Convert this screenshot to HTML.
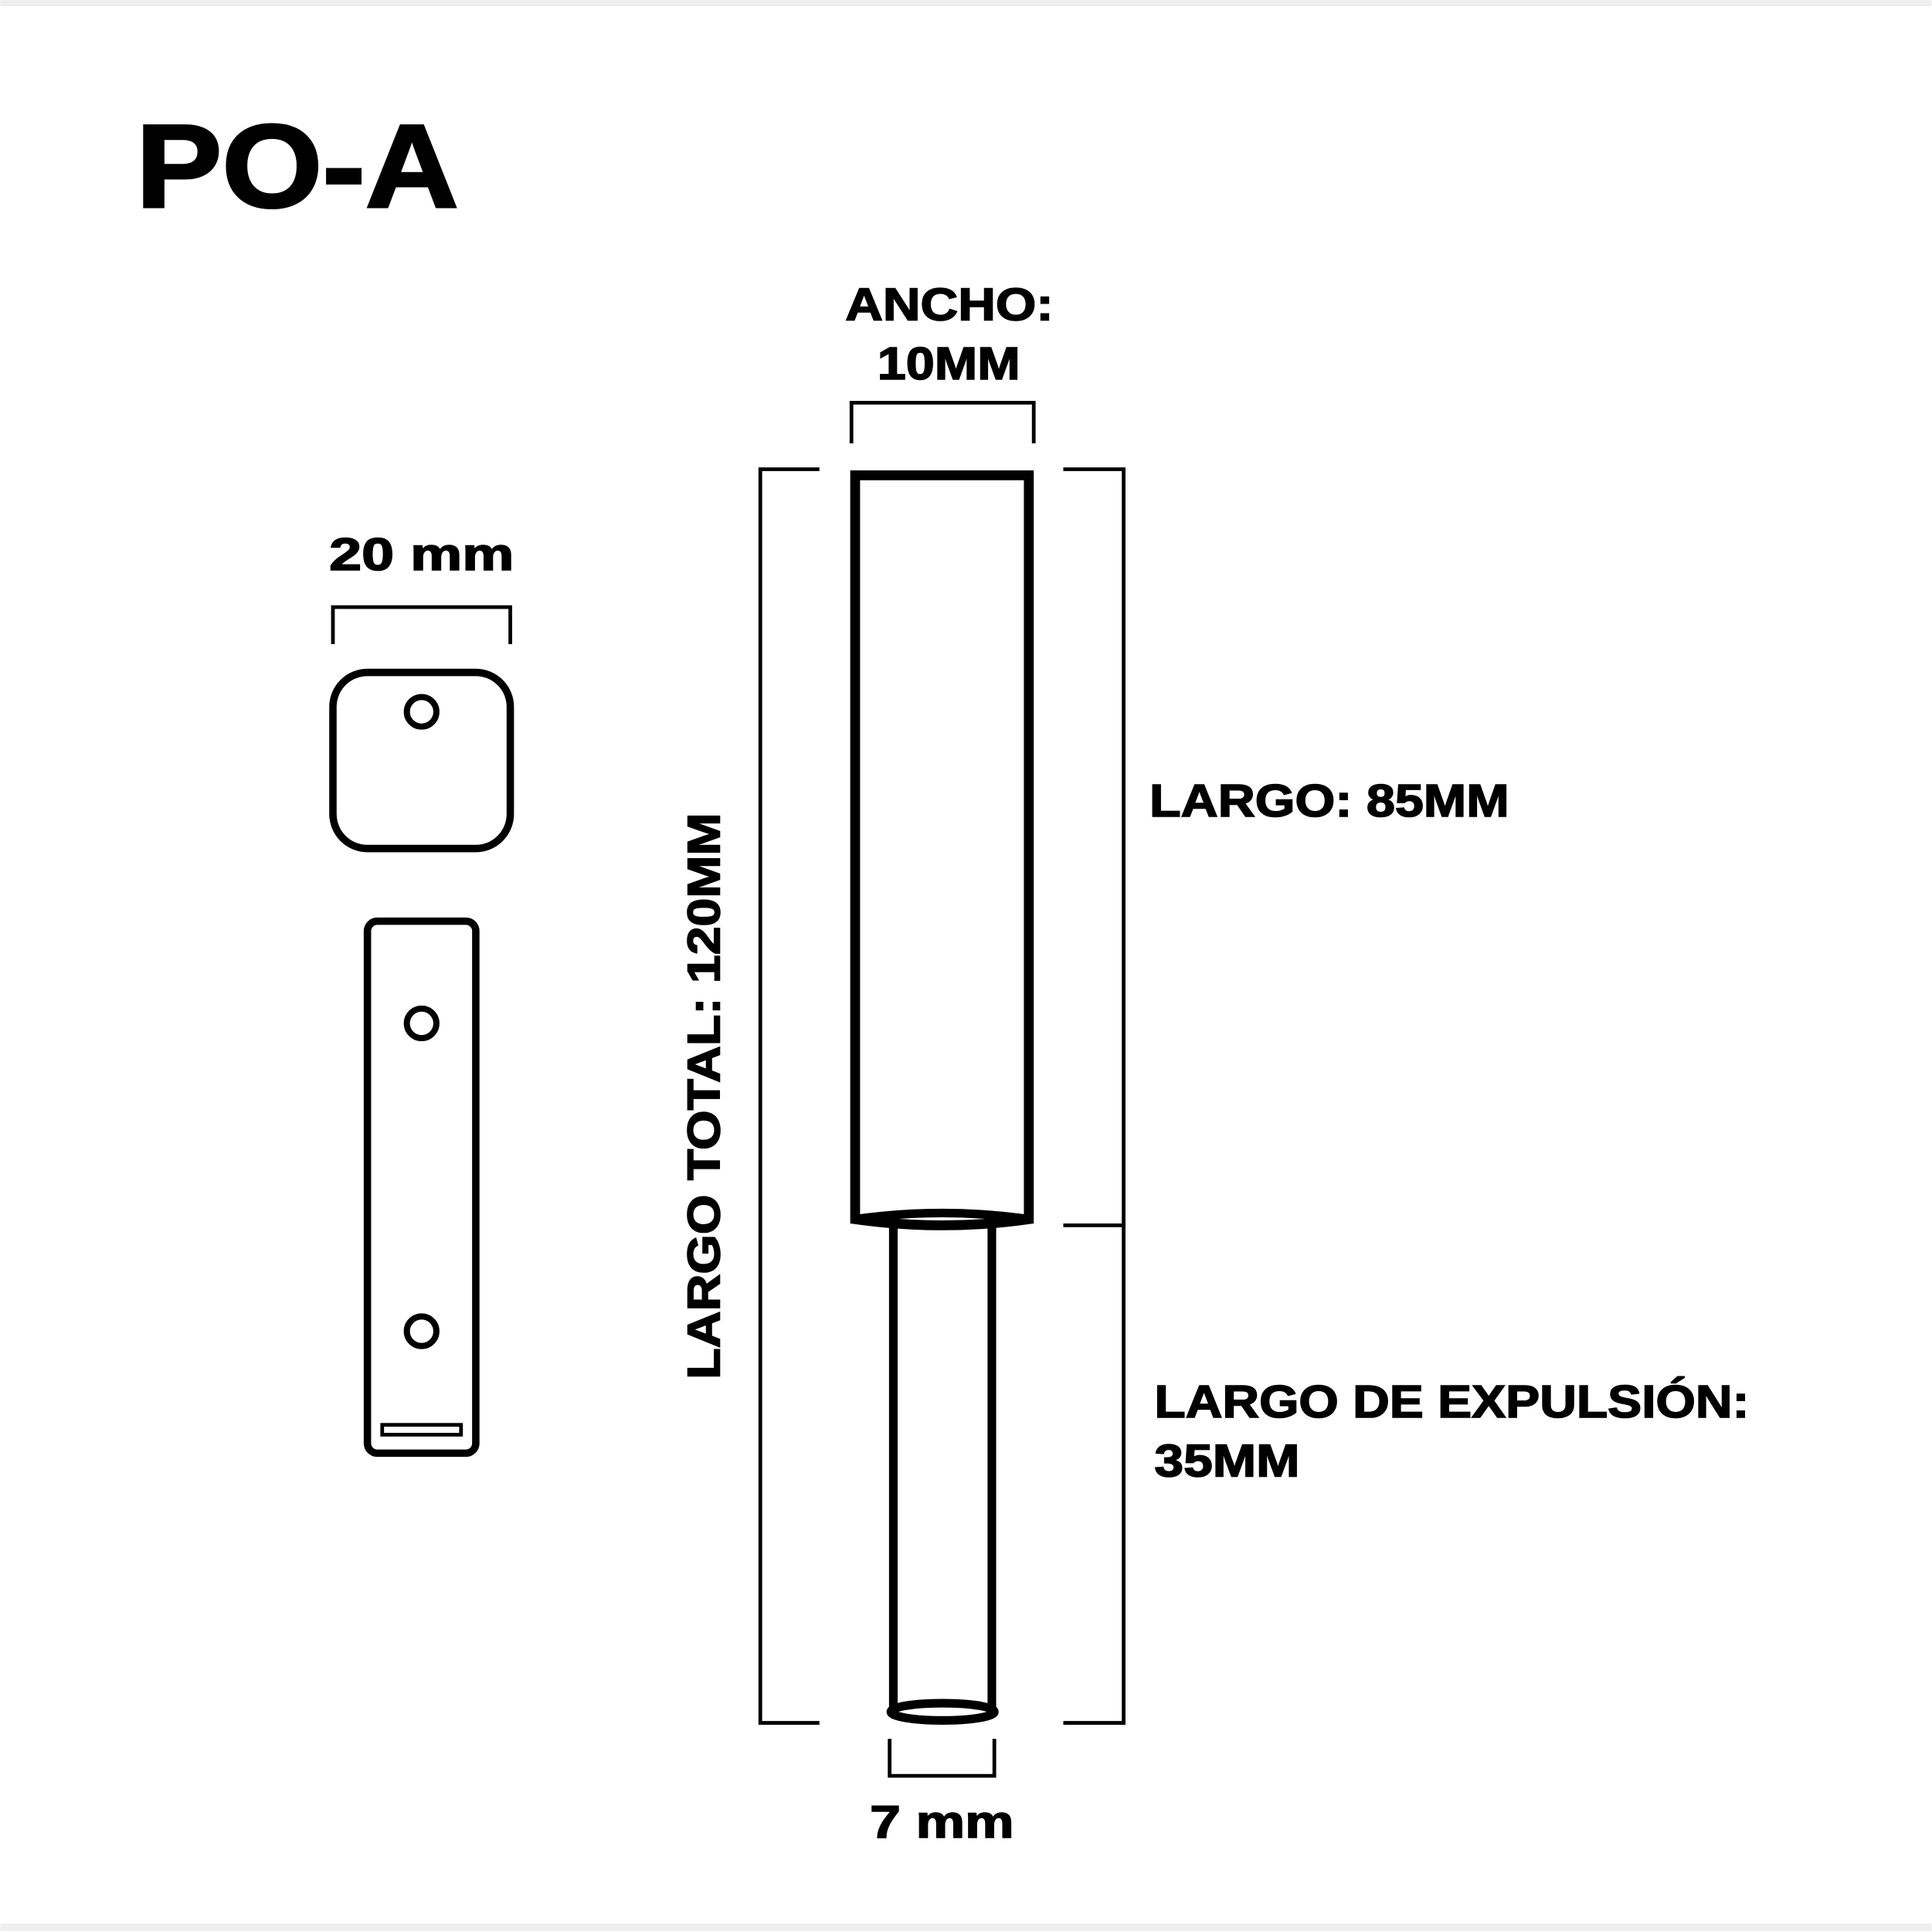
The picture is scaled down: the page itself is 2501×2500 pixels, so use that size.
<!DOCTYPE html>
<html><head><meta charset="utf-8"><style>
html,body{margin:0;padding:0;background:#fff}
svg{display:block}
text{font-family:"Liberation Sans",sans-serif;font-weight:bold;fill:#000;stroke:#000;stroke-width:1}
</style></head><body>
<svg width="2501" height="2500" viewBox="0 0 1568 1568" xmlns="http://www.w3.org/2000/svg">
<rect x="0" y="0" width="1568" height="1568" fill="#fff"/>
<rect x="0" y="0" width="1568" height="5" fill="#eeeeee"/>
<rect x="0" y="1562" width="1568" height="6" fill="#eeeeee"/>
<text x="110" y="168" font-size="96" textLength="262" lengthAdjust="spacingAndGlyphs" style="stroke-width:2">PO-A</text>

<text x="686" y="260" font-size="37" textLength="169" lengthAdjust="spacingAndGlyphs">ANCHO:</text>
<text x="712" y="308" font-size="37" textLength="116" lengthAdjust="spacingAndGlyphs">10MM</text>
<path d="M691 360 V327 H839 V360" fill="none" stroke="#000" stroke-width="3"/>

<g fill="none" stroke="#000">
<path d="M694 990 V386 H835 V990 Q765 1000 694 990 Z" stroke-width="8" fill="#fff"/>
<path d="M725 988 V1388 M805 988 V1388" stroke-width="7"/>
<ellipse cx="765" cy="1390" rx="42" ry="7" stroke-width="7"/>
<path d="M694 990 Q765 980 835 990" stroke-width="7"/>
<path d="M665 381 H617 V1399 H665" stroke-width="3"/>
<path d="M863 381 H912 V1399 H863 M863 995 H912" stroke-width="3"/>
<path d="M722 1412 V1442 H807 V1412" stroke-width="3"/>
<path d="M270 523 V493 H414 V523" stroke-width="3"/>
<rect x="270" y="546" width="144" height="143" rx="28" stroke-width="6"/>
<circle cx="342" cy="578" r="12" stroke-width="5"/>
<rect x="298" y="748" width="88" height="432" rx="8" stroke-width="6"/>
<circle cx="342" cy="831" r="12" stroke-width="5"/>
<circle cx="342" cy="1081" r="12" stroke-width="5"/>
<rect x="310" y="1157" width="64" height="8" stroke-width="3"/>
</g>

<text x="933" y="663" font-size="37" textLength="292" lengthAdjust="spacingAndGlyphs">LARGO: 85MM</text>
<text x="937" y="1151" font-size="37" textLength="483" lengthAdjust="spacingAndGlyphs">LARGO DE EXPULSIÓN:</text>
<text x="937" y="1199" font-size="37" textLength="118" lengthAdjust="spacingAndGlyphs">35MM</text>
<text transform="translate(584,1120) rotate(-90)" x="0" y="0" font-size="37" textLength="460" lengthAdjust="spacingAndGlyphs">LARGO TOTAL: 120MM</text>
<text x="706" y="1492" font-size="37" textLength="117" lengthAdjust="spacingAndGlyphs">7 mm</text>
<text x="267" y="463" font-size="37" textLength="150" lengthAdjust="spacingAndGlyphs">20 mm</text>
</svg>
</body></html>
